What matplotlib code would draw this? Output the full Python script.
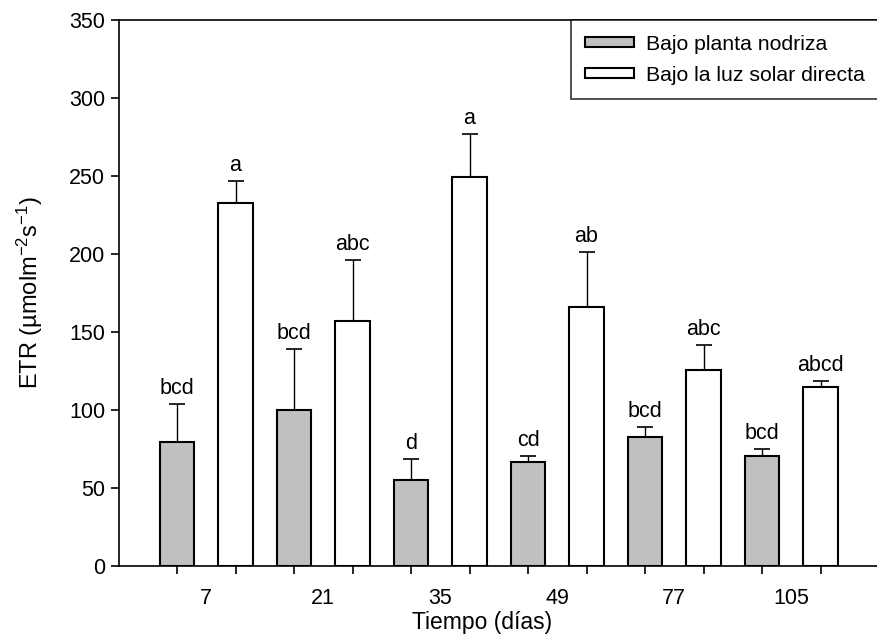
import matplotlib
matplotlib.use("Agg")
import matplotlib.pyplot as plt
import numpy as np
from matplotlib.patches import Patch

plt.rcParams["font.family"] = ["Liberation Sans", "DejaVu Sans"]
plt.rcParams["mathtext.fontset"] = "custom"
plt.rcParams["mathtext.rm"] = "Liberation Sans"
plt.rcParams["mathtext.it"] = "Liberation Sans:italic"
plt.rcParams["mathtext.bf"] = "Liberation Sans:bold"

# Sampling days
days = ["7", "21", "35", "49", "77", "105"]

# ETR under the nurse plant (mean and upper SE)
nurse_mean = [79.7, 100.0, 55.1, 66.5, 82.5, 70.6]
nurse_err = [24.1, 39.0, 13.3, 4.0, 6.6, 4.7]
nurse_letters = ["bcd", "bcd", "d", "cd", "bcd", "bcd"]

# ETR under direct sunlight (mean and upper SE)
sun_mean = [232.9, 157.3, 249.6, 166.2, 125.8, 114.5]
sun_err = [13.7, 38.7, 27.5, 35.3, 15.9, 4.1]
sun_letters = ["a", "abc", "a", "ab", "abc", "abcd"]

series_labels = ["Bajo planta nodriza", "Bajo la luz solar directa"]

W, H = 877, 637
fig = plt.figure(figsize=(W / 100, H / 100), dpi=100)
ax_left, ax_right, ax_top, ax_bottom = 119, 880, 20, 566
ax = fig.add_axes([ax_left / W, (H - ax_bottom) / H,
                   (ax_right - ax_left) / W, (ax_bottom - ax_top) / H])

n = len(days)
x_nurse = np.arange(n) * 2.0
x_sun = x_nurse + 1.0
bw = 0.59

ax.bar(x_nurse, nurse_mean, width=bw, color="#c0c0c0", edgecolor="black",
       linewidth=1.5, zorder=2)
ax.bar(x_sun, sun_mean, width=bw, color="white", edgecolor="black",
       linewidth=1.5, zorder=2)

zeros = [0] * n
ax.errorbar(x_nurse, nurse_mean, yerr=[zeros, nurse_err], fmt="none",
            ecolor="black", elinewidth=1.0, capsize=5.5, capthick=1.2, zorder=1)
ax.errorbar(x_sun, sun_mean, yerr=[zeros, sun_err], fmt="none",
            ecolor="black", elinewidth=1.0, capsize=5.5, capthick=1.2, zorder=1)

for xs, ms, es, ls in [(x_nurse, nurse_mean, nurse_err, nurse_letters),
                       (x_sun, sun_mean, sun_err, sun_letters)]:
    for xi, m, e, lab in zip(xs, ms, es, ls):
        ax.annotate(lab, (xi, m + e), xytext=(0, 3.5), textcoords="offset points",
                    ha="center", va="bottom", fontsize=15.5)

px_per_unit = 58.5
first_px = 177
ax.set_xlim((ax_left - first_px) / px_per_unit, (ax_right - first_px) / px_per_unit)
ax.set_ylim(0, 350)
ax.set_yticks(np.arange(0, 351, 50))

# bar-position ticks without labels, day labels at group centres
ax.set_xticks(np.sort(np.concatenate([x_nurse, x_sun])))
ax.set_xticklabels([])
ax.set_xticks(x_nurse + 0.5, minor=True)
ax.set_xticklabels(days, minor=True, fontsize=15.5)
ax.tick_params(axis="x", which="major", direction="out", length=6, width=1.2)
ax.tick_params(axis="x", which="minor", length=0, pad=16)
ax.tick_params(axis="y", direction="out", length=6, width=1.2, labelsize=15.5, pad=4)

for s in ["left", "bottom", "top"]:
    ax.spines[s].set_linewidth(1.2)
ax.spines["right"].set_visible(False)

ax.set_xlabel("Tiempo (días)", fontsize=16.5)
ax.xaxis.set_label_coords((482.5 - ax_left) / (ax_right - ax_left),
                          -(611 - ax_bottom) / (ax_bottom - ax_top))
ax.set_ylabel(r"ETR (µmolm$^{\mathregular{-2}}$s$^{\mathregular{-1}}$)", fontsize=17)
ax.yaxis.set_label_coords(-(ax_left - 45) / (ax_right - ax_left), 0.5)

handles = [Patch(facecolor="#c0c0c0", edgecolor="black", linewidth=1.5),
           Patch(facecolor="white", edgecolor="black", linewidth=1.5)]
leg = ax.legend(handles, series_labels, loc="upper right", bbox_to_anchor=(1.0, 1.0),
                borderaxespad=0, fontsize=15.3, frameon=True, fancybox=False,
                handlelength=2.26, handleheight=0.33, handletextpad=0.6,
                labelspacing=0.55, borderpad=0.7)
leg.get_frame().set_edgecolor("black")
leg.get_frame().set_linewidth(1.2)

fig.savefig("out.png", dpi=100)
